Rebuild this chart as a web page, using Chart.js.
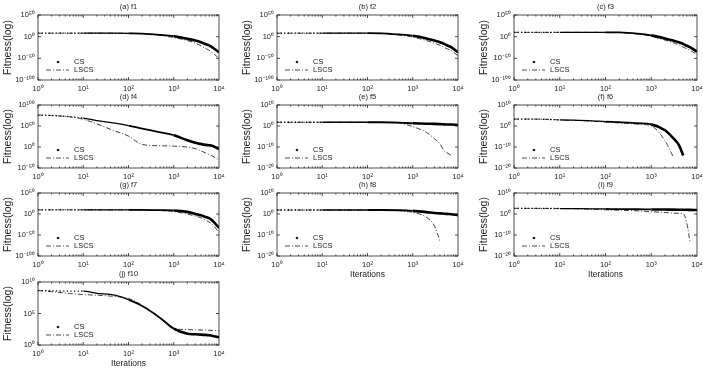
<!DOCTYPE html>
<html>
<head>
<meta charset="utf-8">
<script src="https://cdn.jsdelivr.net/npm/chart.js@4.4.0/dist/chart.umd.min.js"></script>
<style>
  html, body { margin: 0; padding: 0; background: #fff; width: 703px; height: 374px; overflow: hidden; }
  canvas { position: absolute; }
</style>
</head>
<body>
<script>
const iterations = [1, 2, 5, 10, 20, 50, 100, 200, 500, 1000, 2000, 3000, 4000, 5000, 6000, 7000, 10000];
const xTicks = [1, 10, 100, 1000, 10000];

// y tick sets
const yTicksWide = [1e-100, 1e-50, 1, 1e50];
const yTicksF4 = [1e-50, 1, 1e50, 1e100];
const yTicksNarrow = [1e-20, 1e-10, 1, 1e10];
const yTicksF10 = [1, 1e5, 1e10];

// Best fitness, CS and LSCS, per test function
const csF1 = [1e8, 1e8, 1e8, 1e8, 1e8, 1e8, 5e7, 1e7, 1e4, 10, 1e-5, 1e-9, 1e-13, 1e-17, 1e-20, 1e-24, 1e-36];
const lscsF1 = [1e8, 1e8, 1e8, 1e8, 1e8, 1e8, 5e7, 1e7, 1e3, 1e-2, 1e-9, 1e-15, 1e-21, 1e-27, 1e-31, 1e-36, 1e-50];

const csF2 = [1e8, 1e8, 1e8, 1e8, 1e8, 1e8, 1e8, 5e7, 1e5, 100, 1e-4, 1e-9, 1e-13, 1e-17, 1e-21, 1e-24, 1e-36];
const lscsF2 = [1e8, 1e8, 1e8, 1e8, 1e8, 1e8, 1e8, 3e7, 1e4, 0.1, 1e-9, 1e-15, 1e-20, 1e-25, 1e-29, 1e-32, 1e-44];

const csF3 = [1e10, 1e10, 1e10, 1e10, 1e10, 1e10, 8e9, 5e9, 1e7, 1e3, 1e-4, 1e-9, 1e-13, 1e-17, 1e-21, 1e-24, 1e-35];
const lscsF3 = [1e10, 1e10, 1e10, 1e10, 1e10, 1e10, 8e9, 4e9, 1e6, 10, 1e-8, 1e-14, 1e-19, 1e-24, 1e-28, 1e-31, 1e-42];

const csF4 = [1e76, 1e75, 1e72, 1e69, 1e63, 1e57, 1e51, 1e44, 1e35, 1e28, 1e16, 1e10, 1e7, 1e5, 1e4, 1e3, 1e-5];
const lscsF4 = [1e76, 1e75, 1e72, 1e66, 1e55, 1e38, 1e26, 1e6, 1e3, 100, 1, 1e-4, 1e-9, 1e-14, 1e-18, 1e-21, 1e-31];

const csF5 = [60, 60, 60, 60, 60, 60, 60, 60, 40, 20, 12, 10, 8, 6, 5, 5, 3];
const lscsF5 = [60, 60, 60, 60, 60, 60, 60, 50, 25, 0.5, 1e-3, 1e-6, 3e-9, 1e-12, 1e-13, 1e-14, null];

const csF6 = [2000, 2000, 1500, 800, 600, 300, 120, 70, 20, 6, 0.01, 2e-6, 1e-9, 1e-14, null, null, null];
const lscsF6 = [2000, 2000, 1500, 800, 500, 200, 70, 30, 8, 1, 1e-7, 3e-15, null, null, null, null, null];

const csF7 = [1e10, 1e10, 1e10, 1e10, 1e10, 1e10, 8e9, 5e9, 1e9, 3e8, 1e5, 1, 1e-3, 1e-7, 1e-10, 1e-15, 1e-33];
const lscsF7 = [1e10, 1e10, 1e10, 1e10, 1e10, 1e10, 8e9, 4e9, 5e8, 1e6, 0.5, 1e-5, 1e-9, 1e-14, 1e-19, 1e-24, 1e-44];

const csF8 = [80, 80, 80, 80, 80, 80, 80, 80, 60, 30, 8, 3, 2, 1.3, 1, 0.8, 0.3];
const lscsF8 = [80, 80, 80, 80, 80, 80, 80, 80, 40, 6, 0.03, 3e-6, 1e-13, null, null, null, null];

const csF9 = [500, 500, 450, 400, 350, 300, 250, 200, 180, 150, 130, 120, 110, 100, 100, 90, 80];
const lscsF9 = [500, 500, 450, 400, 300, 200, 100, 60, 30, 12, 5, 3, 2, 1.5, 4e-5, 1e-13, null];

const csF10 = [4.5e8, 4e8, 3.5e8, 3.5e8, 1.6e8, 8e7, 1.6e7, 1.5e6, 2e4, 400, 63, 50, 45, 40, 35, 30, 16];
const lscsF10 = [4.5e8, 3e8, 1.5e8, 1e8, 8e7, 5e7, 2.5e7, 2e6, 2e4, 400, 280, 250, 240, 230, 220, 200, 180];

const FONT = '"Liberation Sans", Arial, sans-serif';
const INK = "#222";

// plot areas in page pixels: [left, top, right, bottom]
const panels = [
  { title: "(a) f1", cs: csF1, lscs: lscsF1, yMin: 1e-100, yMax: 1e50, yTicks: yTicksWide, box: [38, 15, 219, 80] },
  { title: "(b) f2", cs: csF2, lscs: lscsF2, yMin: 1e-100, yMax: 1e50, yTicks: yTicksWide, box: [277, 15, 458, 80] },
  { title: "(c) f3", cs: csF3, lscs: lscsF3, yMin: 1e-100, yMax: 1e50, yTicks: yTicksWide, box: [514, 15, 697, 80] },
  { title: "(d) f4", cs: csF4, lscs: lscsF4, yMin: 1e-50, yMax: 1e100, yTicks: yTicksF4, box: [38, 105, 219, 168] },
  { title: "(e) f5", cs: csF5, lscs: lscsF5, yMin: 1e-20, yMax: 1e10, yTicks: yTicksNarrow, box: [277, 105, 458, 168] },
  { title: "(f) f6", cs: csF6, lscs: lscsF6, yMin: 1e-20, yMax: 1e10, yTicks: yTicksNarrow, box: [514, 105, 697, 168] },
  { title: "(g) f7", cs: csF7, lscs: lscsF7, yMin: 1e-100, yMax: 1e50, yTicks: yTicksWide, box: [38, 193, 219, 256] },
  { title: "(h) f8", cs: csF8, lscs: lscsF8, yMin: 1e-20, yMax: 1e10, yTicks: yTicksNarrow, box: [277, 193, 458, 256], xTitle: true },
  { title: "(i) f9", cs: csF9, lscs: lscsF9, yMin: 1e-20, yMax: 1e10, yTicks: yTicksNarrow, box: [514, 193, 697, 256], xTitle: true },
  { title: "(j) f10", cs: csF10, lscs: lscsF10, yMin: 1, yMax: 1e10, yTicks: yTicksF10, box: [38, 282, 219, 345], xTitle: true },
];

function sup(n) {
  const map = { "-": "⁻", "0": "⁰", "1": "¹", "2": "²", "3": "³", "4": "⁴", "5": "⁵", "6": "⁶", "7": "⁷", "8": "⁸", "9": "⁹" };
  return String(n).split("").map((c) => map[c]).join("");
}
function powLabel(v) {
  return "10" + sup(Math.round(Math.log10(v)));
}

// CS is drawn with dots in the original: sparse at first, merging into a thick line
function csWidth(x) {
  if (x < 100) return 1.3;
  if (x < 1000) return 1.8;
  return 2.6;
}

// box, inward ticks, panel title and the in-plot legend
const framePlugin = {
  id: "frame",
  afterDraw(chart, args, opts) {
    const { ctx, chartArea: a, scales } = chart;
    ctx.save();
    ctx.strokeStyle = INK;
    ctx.lineWidth = 0.8;
    ctx.strokeRect(a.left, a.top, a.right - a.left, a.bottom - a.top);

    ctx.beginPath();
    for (let k = 0; k < 4; k++) {
      for (let m = 1; m <= 9; m++) {
        const px = scales.x.getPixelForValue(m * Math.pow(10, k));
        const len = m === 1 ? 3 : 1.6;
        ctx.moveTo(px, a.bottom);
        ctx.lineTo(px, a.bottom - len);
        ctx.moveTo(px, a.top);
        ctx.lineTo(px, a.top + len);
      }
    }
    opts.yTicks.forEach((v) => {
      const py = scales.y.getPixelForValue(v);
      ctx.moveTo(a.left, py);
      ctx.lineTo(a.left + 3, py);
      ctx.moveTo(a.right, py);
      ctx.lineTo(a.right - 3, py);
    });
    ctx.stroke();

    ctx.fillStyle = INK;
    ctx.font = "7.5px " + FONT;
    ctx.textAlign = "center";
    ctx.textBaseline = "middle";
    ctx.fillText(opts.title, (a.left + a.right) / 2, a.top - 8);

    // legend
    const y1 = a.bottom - 18;
    const y2 = a.bottom - 10;
    ctx.textAlign = "left";
    ctx.font = "7.5px " + FONT;
    ctx.beginPath();
    ctx.arc(a.left + 20, y1, 1.3, 0, Math.PI * 2);
    ctx.fill();
    ctx.fillText("CS", a.left + 36, y1);
    ctx.setLineDash([5, 2, 1, 2]);
    ctx.lineWidth = 0.8;
    ctx.beginPath();
    ctx.moveTo(a.left + 8, y2);
    ctx.lineTo(a.left + 31, y2);
    ctx.stroke();
    ctx.setLineDash([]);
    ctx.fillText("LSCS", a.left + 36, y2);
    ctx.restore();
  },
};

function makePanel(p) {
  const [L, T, R, B] = p.box;
  const xH = p.xTitle ? 26 : 14;
  const w = R - L + 48;
  const h = B - T + 16 + xH;
  const canvas = document.createElement("canvas");
  canvas.width = w;
  canvas.height = h;
  canvas.style.left = L - 38 + "px";
  canvas.style.top = T - 16 + "px";
  canvas.style.width = w + "px";
  canvas.style.height = h + "px";
  document.body.appendChild(canvas);

  new Chart(canvas, {
    type: "line",
    data: {
      datasets: [
        {
          label: "CS",
          data: iterations.map((x, i) => ({ x: x, y: p.cs[i] })),
          borderColor: "#000",
          borderWidth: 1.3,
          pointRadius: 0,
          cubicInterpolationMode: "monotone",
          segment: {
            borderWidth: (ctx) => csWidth(ctx.p0.parsed.x),
            borderDash: (ctx) => (ctx.p0.parsed.x < 10 ? [1.2, 2.4] : undefined),
          },
        },
        {
          label: "LSCS",
          data: iterations.map((x, i) => ({ x: x, y: p.lscs[i] })),
          borderColor: "#111",
          borderWidth: 0.8,
          borderDash: [5, 2, 1, 2],
          pointRadius: 0,
          cubicInterpolationMode: "monotone",
        },
      ],
    },
    options: {
      responsive: false,
      animation: false,
      events: [],
      devicePixelRatio: 1,
      layout: { padding: { top: 16, right: 10, left: 0, bottom: 0 } },
      plugins: {
        legend: { display: false },
        tooltip: { enabled: false },
        frame: { title: p.title, yTicks: p.yTicks },
      },
      scales: {
        x: {
          type: "logarithmic",
          min: 1,
          max: 10000,
          afterBuildTicks: (s) => {
            s.ticks = xTicks.map((v) => ({ value: v }));
          },
          afterFit: (s) => {
            s.height = xH;
          },
          grid: { display: false, drawTicks: false },
          border: { display: false },
          ticks: {
            callback: (v) => powLabel(v),
            font: { family: FONT, size: 7.5 },
            color: INK,
            padding: 4,
            maxRotation: 0,
            autoSkip: false,
          },
          title: {
            display: !!p.xTitle,
            text: "Iterations",
            font: { family: FONT, size: 8.5 },
            color: INK,
            padding: { top: 0, bottom: 2 },
          },
        },
        y: {
          type: "logarithmic",
          min: p.yMin,
          max: p.yMax,
          afterBuildTicks: (s) => {
            s.ticks = p.yTicks.map((v) => ({ value: v }));
          },
          afterFit: (s) => {
            s.width = 38;
          },
          grid: { display: false, drawTicks: false },
          border: { display: false },
          ticks: {
            callback: (v) => powLabel(v),
            font: { family: FONT, size: 7.5 },
            color: INK,
            padding: 3,
            autoSkip: false,
          },
          title: {
            display: true,
            text: "Fitness(log)",
            font: { family: FONT, size: 10.5 },
            color: INK,
            padding: { top: 2, bottom: 0 },
          },
        },
      },
    },
    plugins: [framePlugin],
  });
}

panels.forEach(makePanel);
</script>
</body>
</html>
